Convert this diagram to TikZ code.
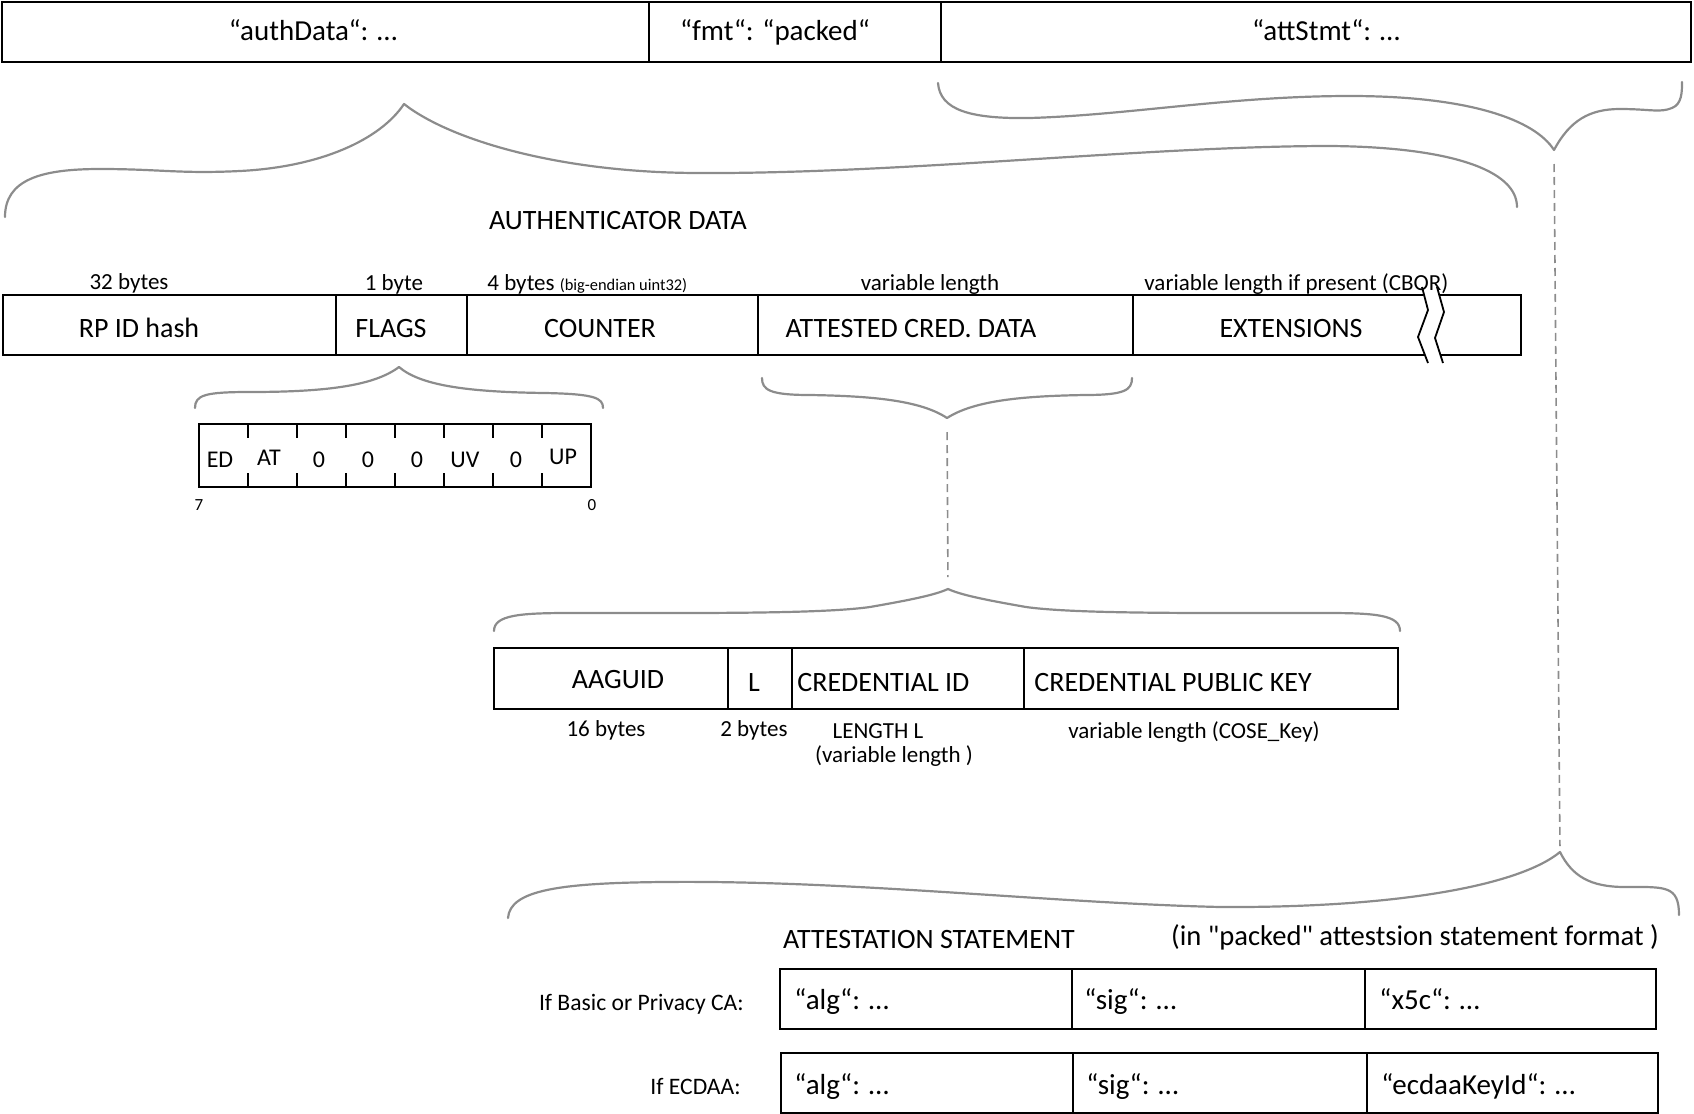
\documentclass[tikz,border=0pt]{standalone}
\usepackage{fontspec}
\setmainfont{Carlito}
\definecolor{bracegray}{RGB}{140,140,140}
% a rectangular field: name, left, top, right, bottom (pixel grid, y downwards)
\newcommand\field[5]{%
  \node[box, anchor=north west, minimum width={(#4-#2)*0.5pt},
        minimum height={(#5-#3)*0.5pt}] (#1) at (#2,#3) {};}
\begin{document}
\begin{tikzpicture}[x=0.5pt, y=-0.5pt,
  box/.style={draw=black, line width=1.1pt, inner sep=0pt, outer sep=0pt},
  brace/.style={draw=bracegray, line width=1.1pt, line join=round, line cap=round},
  link/.style={draw=bracegray, line width=0.8pt, dash pattern=on 4pt off 2.5pt},
  txt/.style={inner sep=0pt, anchor=mid, yshift=-2.4pt, font=\fontsize{14}{16}\selectfont},
  toptxt/.style={txt, font=\fontsize{14.5}{17}\selectfont},
  small/.style={txt, font=\fontsize{11.5}{13}\selectfont},
  flag/.style={txt, font=\fontsize{12}{14}\selectfont},
  bitno/.style={txt, font=\fontsize{8.5}{10}\selectfont},
  stmt/.style={txt, anchor=mid west, font=\fontsize{14.5}{17}\selectfont},
  cond/.style={txt, anchor=mid east, font=\fontsize{11.8}{14}\selectfont}]

\useasboundingbox (0,0) rectangle (1694,1114);

% ---------- top level CBOR map ----------
\field{authdata}{2}{2}{649}{62}
\field{fmt}{649}{2}{941}{62}
\field{attstmt}{941}{2}{1691}{62}
\node[toptxt] (tauth) at (313,31) {“authData“: …};
\node[toptxt] (tfmt) at (775,31) {“fmt“: “packed“};
\node[toptxt] (tatt) at (1326,31) {“attStmt“: …};

% ---------- braces ----------
% authData expanded
\draw[brace] (5,217) .. controls (5,180) and (40,169) .. (100,169)
  .. controls (160,169) and (180,174) .. (240,171)
  .. controls (320,167) and (380,140) .. (404,104)
  .. controls (450,140) and (560,173) .. (700,173)
  .. controls (900,174) and (1150,146) .. (1330,146)
  .. controls (1450,147) and (1517,170) .. (1517,207);
% attStmt expanded
\draw[brace] (938,83) .. controls (940,110) and (970,119) .. (1030,118)
  .. controls (1130,115) and (1230,96) .. (1350,96)
  .. controls (1470,96) and (1535,120) .. (1554,150)
  coordinate (attTip)
  .. controls (1570,120) and (1590,109) .. (1620,109)
  .. controls (1650,109) and (1660,113) .. (1672,108)
  .. controls (1682,104) and (1682,92) .. (1682,82);
% flags expanded
\draw[brace] (195,408) .. controls (195,395) and (205,392) .. (250,392)
  .. controls (330,392) and (375,385) .. (399,367)
  .. controls (420,385) and (465,392) .. (545,393)
  .. controls (595,394) and (603,398) .. (603,408);
% attested credential data collected
\draw[brace] (762,378) .. controls (762,390) and (770,395) .. (810,395)
  .. controls (870,396) and (920,400) .. (947,418) coordinate (acdTip)
  .. controls (975,400) and (1025,396) .. (1085,395)
  .. controls (1125,395) and (1132,390) .. (1132,378);
% attested credential data expanded
\draw[brace] (494,631) .. controls (494,615) and (520,613) .. (570,613)
  .. controls (700,613) and (820,614) .. (870,607)
  .. controls (910,600) and (935,595) .. (948,589) coordinate (credTip)
  .. controls (961,595) and (986,600) .. (1026,607)
  .. controls (1076,614) and (1196,613) .. (1326,613)
  .. controls (1376,613) and (1400,615) .. (1400,631);
% attestation statement expanded
\draw[brace] (508,918) .. controls (510,890) and (560,883) .. (663,882)
  .. controls (850,880) and (1050,903) .. (1220,907)
  .. controls (1400,908) and (1520,885) .. (1560,852) coordinate (stmtTip)
  .. controls (1572,876) and (1590,887) .. (1625,887)
  .. controls (1665,887) and (1679,885) .. (1679,915);

% dashed links between braces
\draw[link, shorten <=7pt, shorten >=3pt] (attTip) -- (stmtTip);
\draw[link, shorten <=7pt, shorten >=6pt] (acdTip) -- (credTip);

% ---------- authenticator data ----------
\node[txt] (tauthhead) at (618,220) {AUTHENTICATOR DATA};

\field{rpid}{3}{295}{336}{355}
\field{flags}{336}{295}{467}{355}
\field{counter}{467}{295}{758}{355}
\field{acd}{758}{295}{1133}{355}
\field{ext}{1133}{295}{1521}{355}

\node[small] (l32) at (129,280) {32 bytes};
\node[small] (l1) at (394,281) {1 byte};
\node[small, anchor=mid west] (l4) at (487,281)
  {4 bytes {\fontsize{8.2}{10}\selectfont (big-endian uint32)}};
\node[small] (lvar) at (930,281) {variable length};
\node[small, anchor=mid west] (lext) at (1144,281) {variable length if present (CBOR)};

\node[txt] (trpid) at (139,328) {RP ID hash};
\node[txt] (tflags) at (391,328) {FLAGS};
\node[txt] (tcounter) at (600,328) {COUNTER};
\node[txt] (tacd) at (911,328) {ATTESTED CRED. DATA};
\node[txt] (text) at (1291,328) {EXTENSIONS};

% break marks on the extensions field
\fill[white] (1422,290) -- (1428,310) -- (1418,337) -- (1428,363)
  -- (1443,363) -- (1435,338) -- (1444,312) -- (1437,290) -- cycle;
\draw[line width=0.9pt] (1422,287) -- (1428,310) -- (1418,337) -- (1428,363);
\draw[line width=0.9pt] (1437,287) -- (1444,312) -- (1435,338) -- (1443,363);

% ---------- flags byte ----------
\field{flagbyte}{199}{424}{591}{487}
\foreach \i in {1,...,7}{
  \draw[line width=1pt] ({199+49*\i},424) -- ++(0,14);
  \draw[line width=1pt] ({199+49*\i},487) -- ++(0,-14);
}
\node[flag] (fED) at (220,458) {ED};
\node[flag] (fAT) at (269,456) {AT};
\node[flag] (fb5) at (319,458) {0};
\node[flag] (fb4) at (368,458) {0};
\node[flag] (fb3) at (417,458) {0};
\node[flag] (fUV) at (465,458) {UV};
\node[flag] (fb1) at (516,458) {0};
\node[flag] (fUP) at (563,455) {UP};
\node[bitno] (bit7) at (199,501) {7};
\node[bitno] (bit0) at (592,501) {0};

% ---------- attested credential data ----------
\field{aaguid}{494}{648}{728}{709}
\field{lenL}{728}{648}{792}{709}
\field{credid}{792}{648}{1024}{709}
\field{credpk}{1024}{648}{1398}{709}

\node[txt] (taaguid) at (618,679) {AAGUID};
\node[txt] (tL) at (754,682) {L};
\node[txt, anchor=mid west] (tcredid) at (797,682) {CREDENTIAL ID};
\node[txt, anchor=mid west] (tcredpk) at (1034,682) {CREDENTIAL PUBLIC KEY};

\node[small] (l16) at (606,727) {16 bytes};
\node[small] (l2) at (754,727) {2 bytes};
\node[small] (lL) at (878,729) {LENGTH L};
\node[small] (lLvar) at (894,753) {(variable length )};
\node[small] (lcose) at (1194,729) {variable length (COSE\_Key)};

% ---------- attestation statement ----------
\node[txt] (tstmthead) at (929,939) {ATTESTATION STATEMENT};
\node[txt, font=\fontsize{14.3}{17}\selectfont] (tstmtfmt) at (1415,936)
  {(in \textquotedbl packed\textquotedbl{} attestsion statement format )};

\field{balg}{780}{969}{1072}{1029}
\field{bsig}{1072}{969}{1365}{1029}
\field{bx5c}{1365}{969}{1656}{1029}
\field{ealg}{781}{1053}{1073}{1113}
\field{esig}{1073}{1053}{1367}{1113}
\field{ekey}{1367}{1053}{1658}{1113}

\node[cond] (cbasic) at (744,1001) {If Basic or Privacy CA:};
\node[cond] (cecdaa) at (741,1085) {If ECDAA:};

\node[stmt] (tbalg) at (794,1000) {“alg“: …};
\node[stmt] (tbsig) at (1084,1000) {“sig“: …};
\node[stmt] (tbx5c) at (1379,1000) {“x5c“: …};
\node[stmt] (tealg) at (794,1085) {“alg“: …};
\node[stmt] (tesig) at (1086,1085) {“sig“: …};
\node[stmt] (tekey) at (1381,1085) {“ecdaaKeyId“: …};
\end{tikzpicture}
\end{document}
